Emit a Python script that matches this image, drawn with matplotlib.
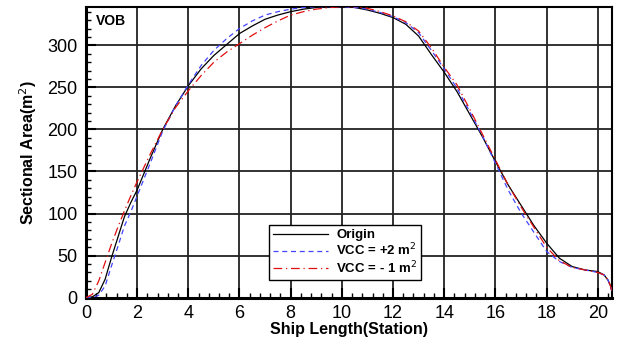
import matplotlib
matplotlib.use("Agg")
import matplotlib.pyplot as plt
from matplotlib.ticker import MultipleLocator

plt.rcParams['font.family'] = ['Liberation Sans', 'DejaVu Sans']

stations = [0, 0.25, 0.5, 0.75, 1, 1.25, 1.5, 1.75, 2, 2.5, 3, 3.5, 4, 4.5, 5, 5.5,
            6, 6.5, 7, 7.5, 8, 8.5, 9, 9.5, 10, 10.5, 11, 11.5, 12, 12.5, 13, 13.5,
            14, 14.5, 15, 15.5, 16, 16.5, 17, 17.5, 18, 18.5, 19, 19.5, 20, 20.25,
            20.4, 20.5, 20.55]

origin = [0, 1, 6, 22, 48, 72, 96, 113, 128, 165, 200, 228, 252, 272, 288, 301,
          314, 323, 331, 336, 340, 343, 345, 346, 346, 345, 342, 338, 333, 325, 311, 289,
          268, 245, 218, 191, 162, 134, 110, 86, 65, 47, 37, 33, 31, 27,
          21, 14, 8]

vcc_plus2 = [0, 0, 3, 14, 38, 61, 85, 102, 121, 159, 198, 228, 253, 276, 294, 308,
             320, 329, 336, 340, 343, 345, 346, 346, 346, 345, 343, 339, 334, 327, 315, 294,
             272, 249, 221, 192, 160, 128, 101, 78, 55, 43, 36, 33, 30, 27,
             21, 14, 8]

vcc_minus1 = [0, 4, 20, 42, 64, 84, 103, 121, 138, 170, 200, 226, 246, 264, 280, 292,
              302, 312, 321, 329, 336, 340, 343, 345, 346, 346, 344, 340, 335, 328, 317, 297,
              274, 253, 224, 194, 164, 134, 108, 84, 60, 44, 36, 33, 30, 27,
              21, 14, 8]

labels = ["Origin", "VCC = +2 m$^2$", "VCC = - 1 m$^2$"]

fig = plt.figure(figsize=(6.23, 3.4), dpi=100)
ax = fig.add_axes([0.138, 0.1245, 0.844, 0.856])

ax.plot(stations, origin, color='black', lw=0.9, label=labels[0], zorder=3)
ax.plot(stations, vcc_plus2, color='#4444ff', lw=0.9, ls=(0, (4, 3)), label=labels[1], zorder=3)
ax.plot(stations, vcc_minus1, color='#e01010', lw=0.9, ls=(0, (7, 3, 1, 3)), label=labels[2], zorder=3)

ax.set_xlim(0, 20.55)
ax.set_ylim(0, 346)
ax.xaxis.set_major_locator(MultipleLocator(2))
ax.xaxis.set_minor_locator(MultipleLocator(0.4))
ax.yaxis.set_major_locator(MultipleLocator(50))
ax.yaxis.set_minor_locator(MultipleLocator(10))
ax.grid(True, which='major', color='#222222', lw=1.3)
ax.tick_params(which='major', direction='in', length=7, width=1.5, labelsize=13,
               top=False, right=False)
ax.tick_params(axis='x', which='major', pad=5)
ax.tick_params(axis='y', which='major', pad=6)
ax.tick_params(which='minor', direction='in', length=3.5, width=1.0, top=False, right=False)

for side in ['left', 'bottom']:
    ax.spines[side].set_linewidth(2.2)
for side in ['top', 'right']:
    ax.spines[side].set_linewidth(1.5)

ax.set_xlabel("Ship Length(Station)", fontsize=11.5, fontweight='bold', labelpad=0)
ax.set_ylabel("Sectional Area(m$^2$)", fontsize=11.5, fontweight='bold', labelpad=6)

ax.text(0.018, 0.975, "VOB", transform=ax.transAxes, fontsize=10, fontweight='bold',
        va='top', ha='left')

leg = ax.legend(loc='lower left', bbox_to_anchor=(0.348, 0.061),
                prop={'weight': 'bold', 'size': 9.5}, frameon=True, fancybox=False,
                framealpha=1, edgecolor='black', handlelength=4.2, borderpad=0.3,
                labelspacing=0.05, handletextpad=0.6, borderaxespad=0)
leg.get_frame().set_linewidth(1.0)

fig.savefig("out.png", dpi=100)
